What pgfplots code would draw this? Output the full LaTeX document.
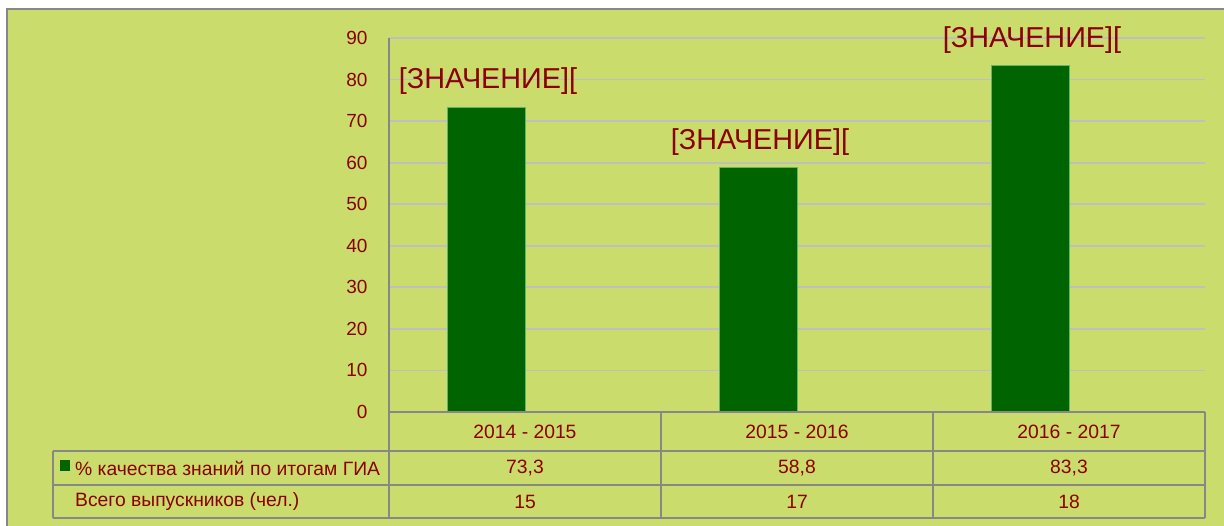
\documentclass[border=0pt]{standalone}
\usepackage{pgfplots}
\pgfplotsset{compat=1.18}
\usepackage{fontspec}
\setmainfont{Liberation Sans}
\definecolor{bg}{RGB}{201,220,108}
\definecolor{txt}{RGB}{140,0,0}
\definecolor{bar}{RGB}{0,100,0}
\definecolor{grid}{RGB}{135,135,135}
\newcommand\labeltext{[ЗНАЧЕНИЕ][}
\begin{document}
\begin{tikzpicture}[x=1bp,y=1bp]
\fill[white] (0,0) rectangle (1224,526);
\fill[bg] (7,0) rectangle (1224,517);
\draw[grid,line width=2bp] (7,-2) -- (7,517) -- (1226,517);
\begin{axis}[
  at={(389bp,114bp)}, anchor=south west,
  scale only axis, width=816bp, height=374bp,
  xmin=-0.5, xmax=2.5, ymin=0, ymax=90,
  ytick={0,10,...,90}, xtick=\empty,
  axis line style={draw=none},
  major tick length=0pt,
  ymajorgrids, grid style={grid,line width=1.8bp},
  tick label style={font=\fontsize{19bp}{20bp}\selectfont, text=txt},
  yticklabel style={xshift=-18bp},
  /pgf/number format/assume math mode=true,
  clip=false,
]
\addplot[ybar, bar width=78bp, bar shift=-39bp, fill=bar, draw=bar!80!green!60!white, line width=0.8bp,
  nodes near coords={\labeltext},
  every node near coord/.append style={anchor=center, xshift=-37bp, yshift=26bp, text=txt, font=\fontsize{28.8bp}{30bp}\selectfont}]
  coordinates {(0,73.3) (1,58.8) (2,83.3)};
\end{axis}
\draw[grid,line width=1.8bp] (389,487.5) -- (389,8);
\draw[grid,line width=1.8bp] (389,114) -- (1205,114);
\foreach \yy in {75,41,8} \draw[grid,line width=1.8bp] (53,\yy) -- (1205,\yy);
\draw[grid,line width=1.8bp] (53,75) -- (53,8);
\foreach \xx in {661,933,1205} \draw[grid,line width=1.8bp] (\xx,114) -- (\xx,8);
\begin{scope}[every node/.style={text=txt, font=\fontsize{19.3bp}{20bp}\selectfont, inner sep=0pt}]
\node at (525,94.5) {2014 - 2015};
\node at (797,94.5) {2015 - 2016};
\node at (1069,94.5) {2016 - 2017};
\node at (525,58) {73,3};
\node at (797,58) {58,8};
\node at (1069,58) {83,3};
\node at (525,24.5) {15};
\node at (797,24.5) {17};
\node at (1069,24.5) {18};
\node[anchor=west] at (75,58) {\% качества знаний по итогам ГИА};
\node[anchor=west] at (75,24.5) {Всего выпускников (чел.)};
\end{scope}
\fill[bar] (60,55) rectangle (70,66);
\pgfresetboundingbox
\path[use as bounding box] (0,0) rectangle (1224,526);
\end{tikzpicture}
\end{document}
